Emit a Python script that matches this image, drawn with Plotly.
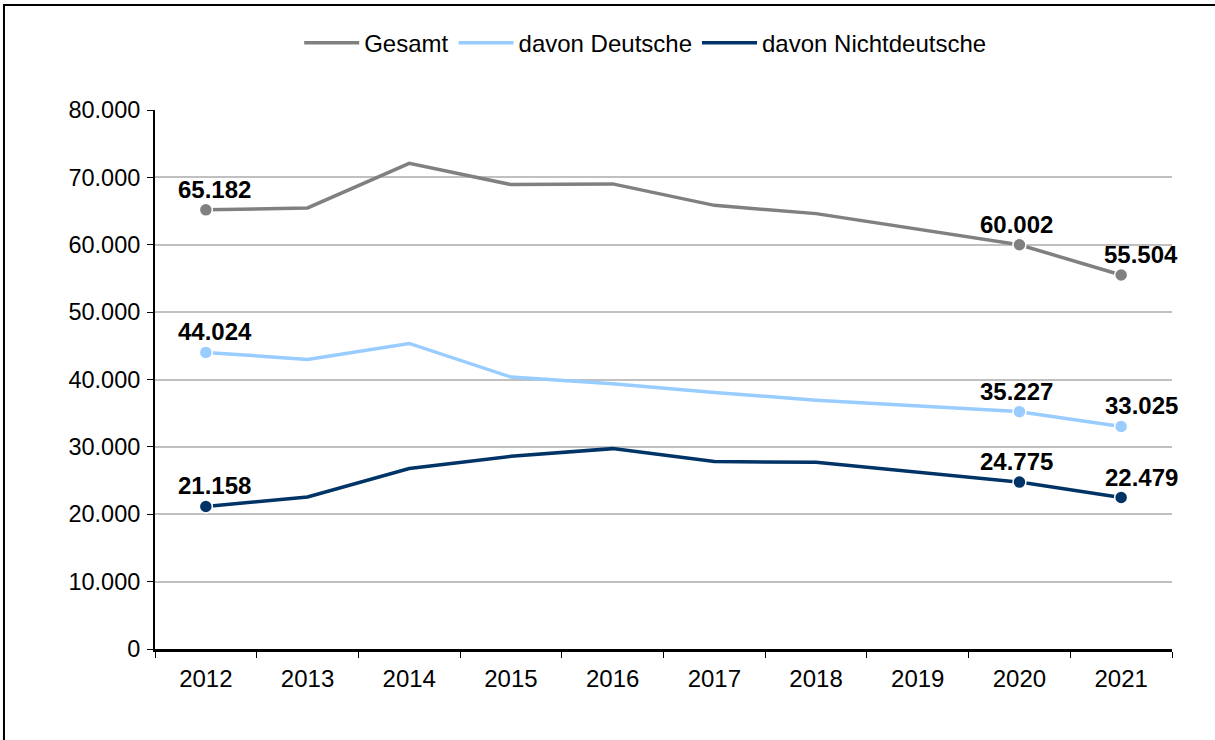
import plotly.graph_objects as go

years = ["2012", "2013", "2014", "2015", "2016", "2017", "2018", "2019", "2020", "2021"]
gesamt = [65182, 65470, 72080, 68930, 69030, 65850, 64620, 62370, 60002, 55504]
deutsche = [44024, 42980, 45350, 40360, 39380, 38070, 36930, 36080, 35227, 33025]
nichtdeutsche = [21158, 22570, 26780, 28600, 29740, 27820, 27720, 26230, 24775, 22479]

series_names = ["Gesamt", "davon Deutsche", "davon Nichtdeutsche"]
series_values = [gesamt, deutsche, nichtdeutsche]
series_colors = ["#808080", "#99CCFF", "#003366"]

labeled_idx = [0, 8, 9]
label_xshift = {0: 9, 8: -3, 9: 20}

y_ticks = [0, 10000, 20000, 30000, 40000, 50000, 60000, 70000, 80000]

FONT = "Liberation Sans, Arial, sans-serif"


def fmt(v):
    return f"{v:,}".replace(",", ".")


fig = go.Figure()
annotations = []
for name, vals, col in zip(series_names, series_values, series_colors):
    fig.add_trace(go.Scatter(
        x=years, y=vals, name=name, mode="lines",
        line=dict(color=col, width=3.5),
        cliponaxis=False,
    ))
    fig.add_trace(go.Scatter(
        x=[years[i] for i in labeled_idx], y=[vals[i] for i in labeled_idx],
        mode="markers", showlegend=False,
        marker=dict(size=13, color=col, line=dict(color="white", width=1.5)),
        cliponaxis=False,
    ))
    for i in labeled_idx:
        annotations.append(dict(
            x=i, y=vals[i], xref="x", yref="y",
            text=f"<b>{fmt(vals[i])}</b>", showarrow=False,
            yanchor="bottom", xanchor="center",
            xshift=label_xshift[i], yshift=5,
            font=dict(family=FONT, size=24, color="black"),
        ))

fig.update_layout(
    width=1215, height=740,
    margin=dict(l=155, r=43, t=110, b=91),
    paper_bgcolor="white", plot_bgcolor="white",
    separators=",.",
    font=dict(family=FONT, size=24, color="black"),
    showlegend=True,
    legend=dict(orientation="h", x=0.482, xanchor="center", y=1.124, yanchor="middle",
                font=dict(family=FONT, size=24, color="black"),
                itemwidth=55, bgcolor="rgba(0,0,0,0)"),
    annotations=annotations,
    shapes=[dict(type="rect", xref="paper", yref="paper",
                 x0=-0.1485, x1=1.3, y0=-0.5, y1=1.1948,
                 line=dict(color="black", width=2), fillcolor="rgba(0,0,0,0)",
                 layer="above")],
)

fig.update_xaxes(
    type="category", range=[-0.5, 9.5],
    showline=True, linecolor="black", linewidth=2.5,
    ticks="outside", tickson="boundaries", ticklen=6, tickcolor="black", tickwidth=1,
    showgrid=False, zeroline=False, ticklabelstandoff=6,
    tickfont=dict(family=FONT, size=24, color="black"),
)
fig.update_yaxes(
    range=[0, 80000], tickvals=y_ticks, tickformat=",d",
    showline=True, linecolor="black", linewidth=2,
    ticks="outside", ticklen=6, tickcolor="black", tickwidth=1,
    showgrid=True, gridcolor="#C0C0C0", gridwidth=1.5, zeroline=False,
    ticklabelstandoff=2,
    tickfont=dict(family=FONT, size=23.5, color="black"),
)

fig.write_html("out.html", config={"displayModeBar": False},
               post_script="document.body.style.margin='0';")
